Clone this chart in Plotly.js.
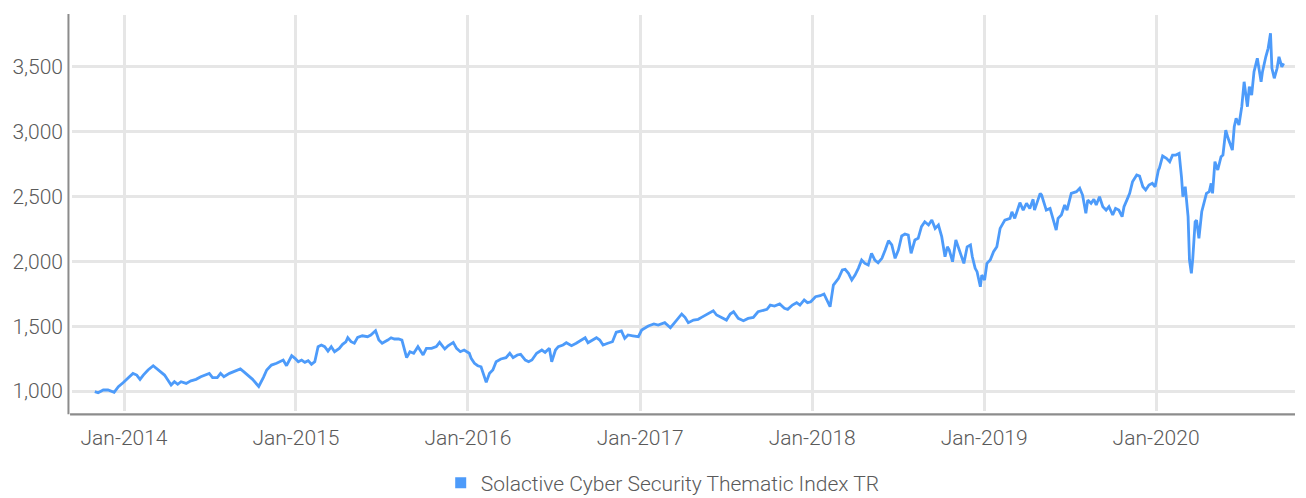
<!DOCTYPE html>
<html><head><meta charset="utf-8">
<script src="https://cdn.plot.ly/plotly-3.0.1.min.js"></script>
<style>html,body{margin:0;padding:0;background:#fff}#chart{width:1306px;height:498px}</style>
</head><body><div id="chart"></div>
<script>
const seriesName = "Solactive Cyber Security Thematic Index TR";
const dates = [
"2013-10-31","2013-11-07","2013-11-18","2013-11-28","2013-12-11","2013-12-20","2013-12-30",
"2014-01-10","2014-01-20","2014-01-28","2014-02-04","2014-02-11","2014-02-21","2014-03-04","2014-03-11","2014-03-18","2014-03-28",
"2014-04-04","2014-04-11","2014-04-18","2014-04-25","2014-05-02","2014-05-13","2014-05-23","2014-06-03","2014-06-13","2014-06-24",
"2014-07-01","2014-07-08","2014-07-18","2014-07-25","2014-08-01","2014-08-13","2014-08-22","2014-09-05","2014-09-12","2014-09-24",
"2014-10-01","2014-10-14","2014-10-20","2014-10-24","2014-10-31","2014-11-10","2014-11-21","2014-11-28","2014-12-05","2014-12-12",
"2014-12-23","2014-12-30",
"2015-01-06","2015-01-13","2015-01-20","2015-01-27","2015-02-03","2015-02-10","2015-02-17","2015-02-24","2015-03-03","2015-03-10",
"2015-03-17","2015-03-24","2015-04-03","2015-04-10","2015-04-17","2015-04-21","2015-04-28","2015-05-05","2015-05-12","2015-05-22",
"2015-06-02","2015-06-09","2015-06-19","2015-06-26","2015-07-03","2015-07-15","2015-07-22","2015-07-29","2015-08-07","2015-08-14",
"2015-08-24","2015-08-31","2015-09-08","2015-09-17","2015-09-28","2015-10-05","2015-10-16","2015-10-26","2015-11-02","2015-11-13",
"2015-11-20","2015-12-01","2015-12-08","2015-12-16","2015-12-24",
"2016-01-04","2016-01-08","2016-01-15","2016-01-22","2016-01-29","2016-02-02","2016-02-09","2016-02-16","2016-02-23","2016-03-01",
"2016-03-11","2016-03-22","2016-03-30","2016-04-06","2016-04-15","2016-04-22","2016-05-02","2016-05-09","2016-05-16","2016-05-26",
"2016-06-06","2016-06-13","2016-06-22","2016-06-27","2016-07-05","2016-07-11","2016-07-21","2016-07-28","2016-08-08","2016-08-18",
"2016-08-29","2016-09-06","2016-09-12","2016-09-23","2016-09-30","2016-10-07","2016-10-14","2016-10-24","2016-11-03","2016-11-11",
"2016-11-22","2016-11-29","2016-12-06","2016-12-16","2016-12-28",
"2017-01-04","2017-01-09","2017-01-18","2017-01-30","2017-02-08","2017-02-22","2017-03-06","2017-03-15","2017-03-22","2017-03-30",
"2017-04-06","2017-04-13","2017-04-24","2017-05-04","2017-05-11","2017-05-19","2017-05-26","2017-06-05","2017-06-12","2017-06-22",
"2017-07-03","2017-07-11","2017-07-18","2017-07-28","2017-08-08","2017-08-18","2017-08-29","2017-09-08","2017-09-19","2017-09-27",
"2017-10-04","2017-10-13","2017-10-24","2017-11-03","2017-11-10","2017-11-20","2017-11-29","2017-12-06","2017-12-15","2017-12-22",
"2017-12-29",
"2018-01-08","2018-01-18","2018-01-26","2018-02-08","2018-02-15","2018-02-26","2018-03-06","2018-03-12","2018-03-19","2018-03-26",
"2018-04-02","2018-04-09","2018-04-16","2018-04-23","2018-04-30","2018-05-07","2018-05-14","2018-05-21","2018-05-29","2018-06-05",
"2018-06-12","2018-06-19","2018-06-26","2018-07-03","2018-07-10","2018-07-17","2018-07-24","2018-07-30","2018-08-07","2018-08-14",
"2018-08-21","2018-08-28","2018-09-05","2018-09-12","2018-09-19","2018-09-26","2018-10-03","2018-10-10","2018-10-15","2018-10-19",
"2018-10-26","2018-11-02","2018-11-09","2018-11-19","2018-11-26","2018-12-03","2018-12-07","2018-12-13","2018-12-17","2018-12-24",
"2018-12-27",
"2019-01-02","2019-01-07","2019-01-14","2019-01-21","2019-01-28","2019-02-04","2019-02-14","2019-02-25","2019-03-01","2019-03-07",
"2019-03-18","2019-03-25","2019-04-01","2019-04-08","2019-04-15","2019-04-18","2019-04-24","2019-04-30","2019-05-03","2019-05-13",
"2019-05-21","2019-05-24","2019-06-03","2019-06-07","2019-06-14","2019-06-21","2019-06-26","2019-07-05","2019-07-16","2019-07-23",
"2019-07-29","2019-08-05","2019-08-09","2019-08-16","2019-08-22","2019-08-27","2019-09-03","2019-09-10","2019-09-17","2019-09-23",
"2019-10-01","2019-10-07","2019-10-14","2019-10-21","2019-10-25","2019-10-31","2019-11-06","2019-11-12","2019-11-21","2019-11-27",
"2019-12-04","2019-12-10","2019-12-17","2019-12-24","2019-12-30",
"2020-01-06","2020-01-08","2020-01-15","2020-01-23","2020-01-30","2020-02-05","2020-02-12","2020-02-19","2020-02-24","2020-02-27",
"2020-03-03","2020-03-09","2020-03-12","2020-03-16","2020-03-19","2020-03-24","2020-03-27","2020-04-01","2020-04-07","2020-04-13",
"2020-04-17","2020-04-23","2020-04-27","2020-04-30","2020-05-05","2020-05-11","2020-05-18","2020-05-22","2020-05-28","2020-06-02",
"2020-06-11","2020-06-15","2020-06-19","2020-06-25","2020-07-01","2020-07-06","2020-07-13","2020-07-17","2020-07-22","2020-07-27",
"2020-08-03","2020-08-11","2020-08-14","2020-08-21","2020-08-26","2020-08-31","2020-09-03","2020-09-08","2020-09-14","2020-09-18",
"2020-09-24","2020-09-28"
];
const values = [
995,987,1008,1008,990,1033,1064,
1098,1136,1123,1090,1123,1162,1195,1175,1149,1123,
1085,1046,1072,1052,1072,1059,1079,1090,1110,1123,
1136,1103,1103,1136,1110,1136,1149,1170,1149,1116,
1090,1035,1072,1106,1162,1200,1214,1226,1239,1195,
1272,1252,
1226,1239,1221,1234,1206,1226,1342,1355,1342,1308,
1342,1303,1329,1360,1380,1411,1380,1368,1414,1426,
1419,1432,1465,1393,1368,1393,1411,1401,1401,1393,
1257,1303,1291,1342,1278,1329,1329,1342,1375,1324,
1349,1375,1329,1303,1316,
1291,1252,1214,1195,1187,1149,1067,1136,1162,1226,
1247,1257,1291,1257,1278,1283,1239,1226,1239,1291,
1316,1298,1329,1226,1316,1342,1355,1372,1349,1368,
1393,1411,1372,1393,1411,1393,1355,1368,1380,1453,
1463,1406,1432,1426,1419,
1470,1483,1501,1517,1509,1527,1488,1527,1560,1594,
1568,1527,1547,1553,1568,1586,1599,1619,1586,1568,
1547,1594,1611,1560,1542,1560,1568,1611,1624,1630,
1663,1655,1671,1638,1630,1663,1681,1663,1702,1681,
1688,
1727,1735,1748,1650,1817,1869,1933,1938,1907,1856,
1894,1946,2010,1984,1971,2062,2010,1989,2023,2087,
2159,2126,2023,2087,2195,2210,2203,2062,2164,2177,
2267,2305,2280,2318,2254,2280,2190,2035,2112,2087,
1997,2164,2087,1984,2112,2126,2035,1946,1920,1804,
1894,
1856,1984,2010,2074,2112,2254,2318,2331,2382,2331,
2452,2395,2447,2408,2478,2395,2459,2524,2511,2395,
2408,2364,2241,2331,2357,2434,2395,2524,2537,2563,
2511,2370,2472,2447,2478,2434,2498,2421,2395,2421,
2357,2408,2395,2344,2421,2472,2524,2613,2665,2657,
2575,2550,2588,2601,2575,
2704,2717,2812,2794,2768,2819,2819,2832,2652,2498,
2575,2344,2010,1907,2023,2305,2318,2177,2382,2459,
2524,2537,2601,2524,2768,2704,2806,2819,3012,2948,
2858,3037,3102,3051,3192,3384,3192,3346,3282,3462,
3565,3384,3462,3577,3642,3758,3488,3411,3488,3577,
3500,3526
];
const yTickVals = [1000, 1500, 2000, 2500, 3000, 3500];
const xTickVals = ["2014-01-01","2015-01-01","2016-01-01","2017-01-01","2018-01-01","2019-01-01","2020-01-01"];
const xTickText = ["Jan-2014","Jan-2015","Jan-2016","Jan-2017","Jan-2018","Jan-2019","Jan-2020"];

const lineColor = "rgb(77,155,250)";
const fontFam = "Roboto, sans-serif";
const txtColor = "#5a5a5a";
const tf = {family: fontFam, size: 21, color: txtColor, weight: 300};

const traces = [
  {x: dates, y: values, type: "scatter", mode: "lines", name: seriesName,
   line: {color: lineColor, width: 2.8}, showlegend: false, hoverinfo: "x+y"},
  {x: [null], y: [null], type: "scatter", mode: "markers", name: seriesName,
   marker: {symbol: "square", size: 11, color: lineColor}, showlegend: true}
];

const layout = {
  width: 1306, height: 498,
  margin: {l: 72, r: 11, t: 15, b: 87, autoexpand: false},
  paper_bgcolor: "#fff", plot_bgcolor: "#fff",
  font: tf,
  xaxis: {
    type: "date", range: ["2013-09-12 14:00", "2020-10-22"],
    tickvals: xTickVals, ticktext: xTickText,
    showgrid: true, gridcolor: "#e6e6e6", gridwidth: 3,
    zeroline: false, showline: false, ticks: "", ticklabelstandoff: 12,
    tickfont: tf
  },
  yaxis: {
    range: [846, 3899], tickvals: yTickVals, tickformat: ",d",
    showgrid: true, gridcolor: "#e6e6e6", gridwidth: 3,
    zeroline: false, showline: false, ticks: "", ticklabelstandoff: 8,
    tickfont: tf
  },
  showlegend: true,
  legend: {orientation: "h", x: 0.483, xanchor: "center", y: -0.182, yanchor: "middle",
    font: tf, bgcolor: "rgba(0,0,0,0)"},
  shapes: [
    {type: "line", xref: "paper", yref: "paper", x0: -0.0029, x1: -0.0029, y0: -0.0085, y1: 1.0025,
     line: {color: "#8c8c8c", width: 2}},
    {type: "line", xref: "paper", yref: "paper", x0: -0.0016, x1: 1, y0: -0.0085, y1: -0.0085,
     line: {color: "#8c8c8c", width: 2.4}}
  ]
};

Plotly.newPlot("chart", traces, layout, {displayModeBar: false, responsive: false});
</script>
</body></html>
